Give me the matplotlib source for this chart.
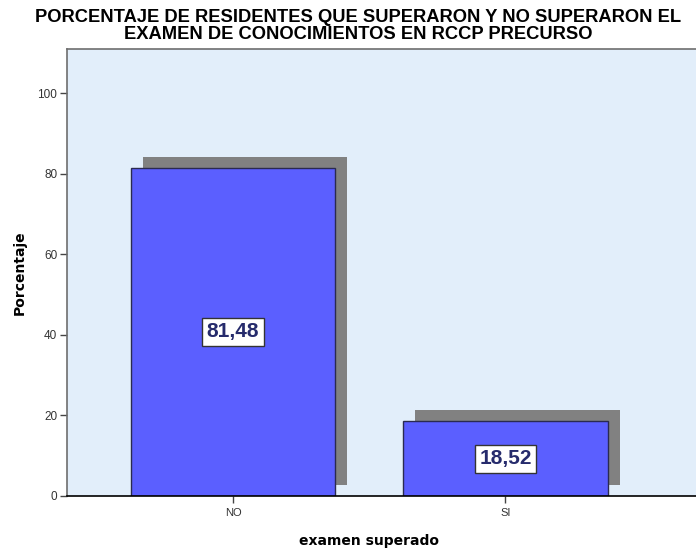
import matplotlib
matplotlib.use("Agg")
import matplotlib.pyplot as plt
from matplotlib.transforms import ScaledTranslation

categories = ["NO", "SI"]
percentages = [81.48, 18.52]
value_labels = ["81,48", "18,52"]
y_ticks = [0, 20, 40, 60, 80, 100]

fig = plt.figure(figsize=(6.96, 5.51), dpi=100)
ax = fig.add_axes([67 / 696, 55 / 551, 629 / 696, 447 / 551])
ax.set_facecolor("#E2EEFA")

x = list(range(len(categories)))
width = 0.75

# drop shadow behind each bar, shifted right and up
shadow_tr = ax.transData + ScaledTranslation(12 / 100, 11 / 100, fig.dpi_scale_trans)
ax.bar(x, percentages, width=width, color="#818181", edgecolor="none",
       transform=shadow_tr, zorder=1)
ax.bar(x, percentages, width=width, color="#5B5FFF", edgecolor="#2A2A50",
       linewidth=1.0, zorder=2)

for xi, v, lab in zip(x, percentages, value_labels):
    ax.text(xi, v / 2, lab, ha="center", va="center", fontsize=15,
            fontweight="bold", color="#262B6C", family="Liberation Sans",
            bbox=dict(boxstyle="square,pad=0.22", facecolor="white",
                      edgecolor="#333333", linewidth=1.0), zorder=3)

ax.set_xlim(-0.61, 1.70)
ax.set_ylim(0, 111)
ax.set_xticks(x)
ax.set_xticklabels(categories, family="Liberation Sans", fontsize=8, color="#333333")
ax.set_yticks(y_ticks)
ax.set_yticklabels([str(t) for t in y_ticks], family="Liberation Sans",
                   fontsize=8.5, color="#333333")
ax.tick_params(axis="both", direction="out", length=5, width=1, color="#444444",
               pad=2)
ax.tick_params(axis="x", pad=4)

for side in ("top", "left"):
    ax.spines[side].set_color("#6E6E6E")
    ax.spines[side].set_linewidth(1.2)
ax.spines["right"].set_visible(False)
ax.spines["bottom"].set_color("#000000")
ax.spines["bottom"].set_linewidth(1.2)

ax.set_ylabel("Porcentaje", fontsize=10, fontweight="bold",
              family="DejaVu Sans", labelpad=8)
ax.set_xlabel("examen superado", fontsize=10, fontweight="bold",
              family="DejaVu Sans", labelpad=18)
ax.xaxis.set_label_coords(0.48, -0.085)

fig.text(0.515, 0.983,
         "PORCENTAJE DE RESIDENTES QUE SUPERARON Y NO SUPERARON EL\n"
         "EXAMEN DE CONOCIMIENTOS EN RCCP PRECURSO",
         ha="center", va="top", fontsize=13.2, fontweight="bold",
         family="Liberation Sans", linespacing=0.98)

fig.savefig("out.png", dpi=100, facecolor="white")
